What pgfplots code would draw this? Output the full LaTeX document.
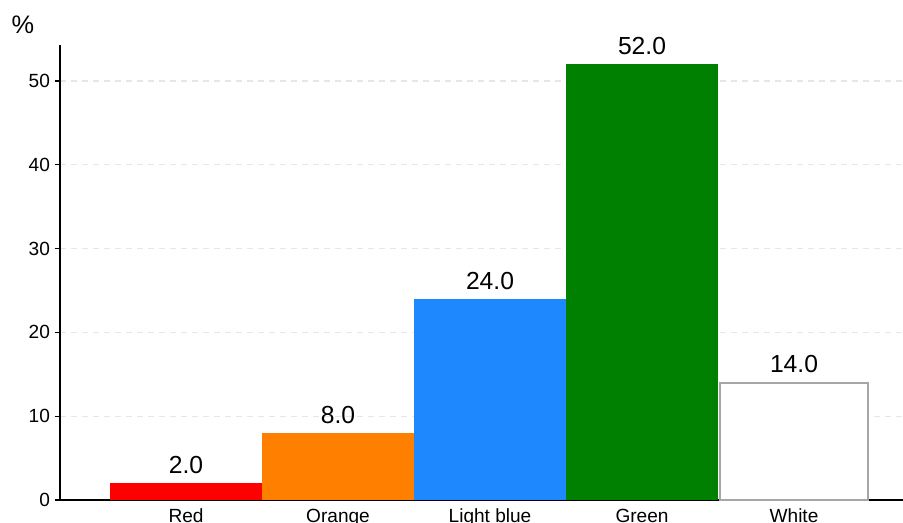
\documentclass[border=0pt]{standalone}
\usepackage{pgfplots}
\pgfplotsset{compat=1.18}
\usepackage{fontspec}
\setmainfont{Liberation Sans}
\definecolor{cred}{HTML}{FF0000}
\definecolor{corange}{HTML}{FF7F00}
\definecolor{cblue}{HTML}{1E88FF}
\definecolor{cgreen}{HTML}{008000}
\definecolor{cgrayedge}{HTML}{A6A6A6}
\definecolor{cgrid}{HTML}{E6E6E6}
\begin{document}
\begin{tikzpicture}
\begin{axis}[
  scale only axis, width=632.25pt, height=341.25pt,
  xmin=-0.829, xmax=4.717, ymin=0, ymax=54.3,
  axis x line*=bottom, axis y line*=left,
  axis line style={line width=0.8pt, black},
  xtick={0,1,2,3,4}, xticklabels={Red,Orange,Light blue,Green,White},
  x tick style={draw=none},
  ytick={0,10,20,30,40,50},
  tick align=outside, y tick style={black, line width=0.8pt}, major tick length=4pt,
  ymajorgrids, grid style={cgrid, line width=0.8pt, dash pattern=on 4.5pt off 3.75pt},
  ticklabel style={font=\fontsize{14.3}{17}\selectfont},
  xticklabel style={yshift=1pt},
  /pgf/number format/assume math mode=true,
  every axis plot/.append style={ybar, bar width=1, bar shift=0pt},
  nodes near coords,
  nodes near coords style={font=\fontsize{18.5}{22}\selectfont, anchor=south, yshift=3.5pt,
    /pgf/number format/.cd, fixed, fixed zerofill, precision=1, assume math mode=true},
  clip=false,
]
\addplot[fill=cred, draw=none] coordinates {(0,2.0)};
\addplot[fill=corange, draw=none] coordinates {(1,8.0)};
\addplot[fill=cblue, draw=none] coordinates {(2,24.0)};
\addplot[fill=cgreen, draw=none] coordinates {(3,52.0)};
\addplot[fill=white, draw=cgrayedge, line width=1.5pt, bar width=0.97] coordinates {(4,14.0)};
\node[font=\fontsize{19}{22}\selectfont] at ([xshift=-27.75pt,yshift=15.4pt]rel axis cs:0,1) {\%};
\end{axis}
\pgfresetboundingbox
\path[use as bounding box] ([xshift=-45pt,yshift=-17.25pt]current axis.south west) rectangle ([yshift=33.75pt]current axis.north east);
\end{tikzpicture}
\end{document}
